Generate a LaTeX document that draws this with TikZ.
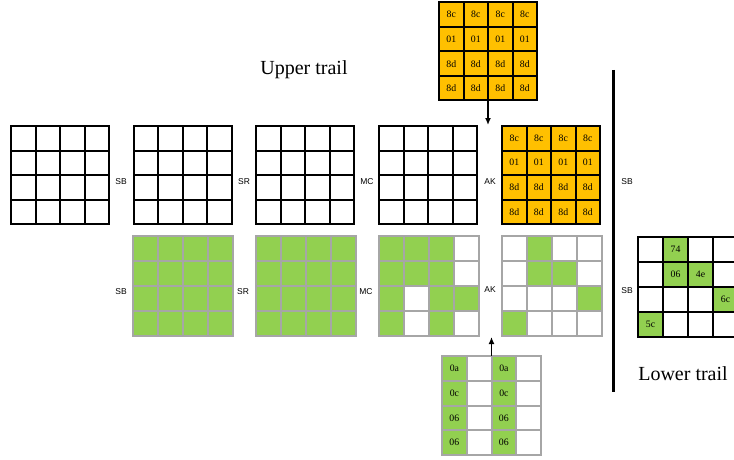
\documentclass[tikz,border=0pt]{standalone}
\usepackage{fontspec}
\setmainfont{Liberation Serif}
\newfontfamily\labfont{Liberation Sans}
\usetikzlibrary{arrows.meta}
\definecolor{gr}{HTML}{92D050}
\definecolor{og}{HTML}{FFC000}
\definecolor{lg}{HTML}{A6A6A6}
\tikzset{
  celltext/.style={inner sep=0pt,font=\fontsize{9.8}{11}\selectfont},
  oplabel/.style={inner sep=0pt,font=\labfont\fontsize{8.5}{10}\selectfont},
  trail/.style={inner sep=0pt,font=\fontsize{20}{22}\selectfont},
  blk/.style={black,line width=2pt,line cap=rect},
  gry/.style={lg,line width=2pt,line cap=rect},
  feed/.style={black,line width=1.3pt,-{Latex[length=7pt,width=6pt]}}
}
% name, left, top, cell, line style, cells col/row/fill/text
\newcommand\mkgrid[6]{%
  \node[inner sep=0pt,minimum width=4*#4pt,minimum height=4*#4pt] (#1) at (#2+2*#4,#3+2*#4) {};
  \foreach \xa/\xb/\xc/\xd in {#6}{%
    \fill[\xc] (#2+\xa*#4,#3+\xb*#4) rectangle ++(#4,#4);
    \node[celltext] at (#2+\xa*#4+#4/2,#3+\xb*#4+#4/2) {\xd};
  }
  \foreach \xi in {0,...,4}{%
    \draw[#5] (#2+\xi*#4,#3) -- (#2+\xi*#4,#3+4*#4);
    \draw[#5] (#2,#3+\xi*#4) -- (#2+4*#4,#3+\xi*#4);
  }
}
\begin{document}
\begin{tikzpicture}[x=1pt,y=-1pt]
\useasboundingbox (0,0) rectangle (734,460);
\clip (0,0) rectangle (734,460);
\fill[white] (0,0) rectangle (734,460);
% upper row
\mkgrid{u1}{11}{126}{24.5}{blk}{0/0/white/}
\mkgrid{u2}{133.5}{126}{24.5}{blk}{0/0/white/}
\mkgrid{u3}{256}{126}{24.5}{blk}{0/0/white/}
\mkgrid{u4}{379}{126}{24.5}{blk}{0/0/white/}
\mkgrid{u5}{502}{126}{24.5}{blk}{0/0/og/8c,1/0/og/8c,2/0/og/8c,3/0/og/8c,0/1/og/01,1/1/og/01,2/1/og/01,3/1/og/01,0/2/og/8d,1/2/og/8d,2/2/og/8d,3/2/og/8d,0/3/og/8d,1/3/og/8d,2/3/og/8d,3/3/og/8d}
% top key grid
\mkgrid{kt}{439}{2.5}{24.5}{blk}{0/0/og/8c,1/0/og/8c,2/0/og/8c,3/0/og/8c,0/1/og/01,1/1/og/01,2/1/og/01,3/1/og/01,0/2/og/8d,1/2/og/8d,2/2/og/8d,3/2/og/8d,0/3/og/8d,1/3/og/8d,2/3/og/8d,3/3/og/8d}
% lower row
\mkgrid{l2}{132.5}{236}{25}{gry}{0/0/gr/,1/0/gr/,2/0/gr/,3/0/gr/,0/1/gr/,1/1/gr/,2/1/gr/,3/1/gr/,0/2/gr/,1/2/gr/,2/2/gr/,3/2/gr/,0/3/gr/,1/3/gr/,2/3/gr/,3/3/gr/}
\mkgrid{l3}{256}{236}{25}{gry}{0/0/gr/,1/0/gr/,2/0/gr/,3/0/gr/,0/1/gr/,1/1/gr/,2/1/gr/,3/1/gr/,0/2/gr/,1/2/gr/,2/2/gr/,3/2/gr/,0/3/gr/,1/3/gr/,2/3/gr/,3/3/gr/}
\mkgrid{l4}{379}{236}{25}{gry}{0/0/gr/,1/0/gr/,2/0/gr/,0/1/gr/,1/1/gr/,2/1/gr/,0/2/gr/,2/2/gr/,3/2/gr/,0/3/gr/,2/3/gr/}
\mkgrid{l5}{502}{236}{25}{gry}{1/0/gr/,1/1/gr/,2/1/gr/,3/2/gr/,0/3/gr/}
% bottom key grid
\mkgrid{kb}{442}{356}{24.75}{gry}{0/0/gr/0a,2/0/gr/0a,0/1/gr/0c,2/1/gr/0c,0/2/gr/06,2/2/gr/06,0/3/gr/06,2/3/gr/06}
% right grid
\mkgrid{rg}{638}{237}{25}{blk}{1/0/gr/74,1/1/gr/06,2/1/gr/4e,3/2/gr/6c,0/3/gr/5c}
% operation labels
\node[oplabel] (s1) at (121,182) {SB};
\node[oplabel] (s2) at (244,182) {SR};
\node[oplabel] (s3) at (367,182) {MC};
\node[oplabel] (s4) at (490,182) {AK};
\node[oplabel] (t1) at (121,292) {SB};
\node[oplabel] (t2) at (243,292) {SR};
\node[oplabel] (t3) at (366,292) {MC};
\node[oplabel] (t4) at (490,290) {AK};
\node[oplabel] (r1) at (627,182) {SB};
\node[oplabel] (r2) at (627,291) {SB};
% divider
\coordinate (dv1) at (613.5,70);
\coordinate (dv2) at (613.5,392);
\draw[black,line width=3.5pt] (dv1) -- (dv2);
% trails
\node[trail] (ut) at (304,70) {Upper trail};
\node[trail] (lt) at (683,374) {Lower trail};
% key arrows
\coordinate (ka) at (488,125);
\coordinate (kb2) at (491.5,337);
\draw[feed] (kt.south) -- (ka);
\draw[feed] (kb.north) -- (kb2);
\end{tikzpicture}
\end{document}
